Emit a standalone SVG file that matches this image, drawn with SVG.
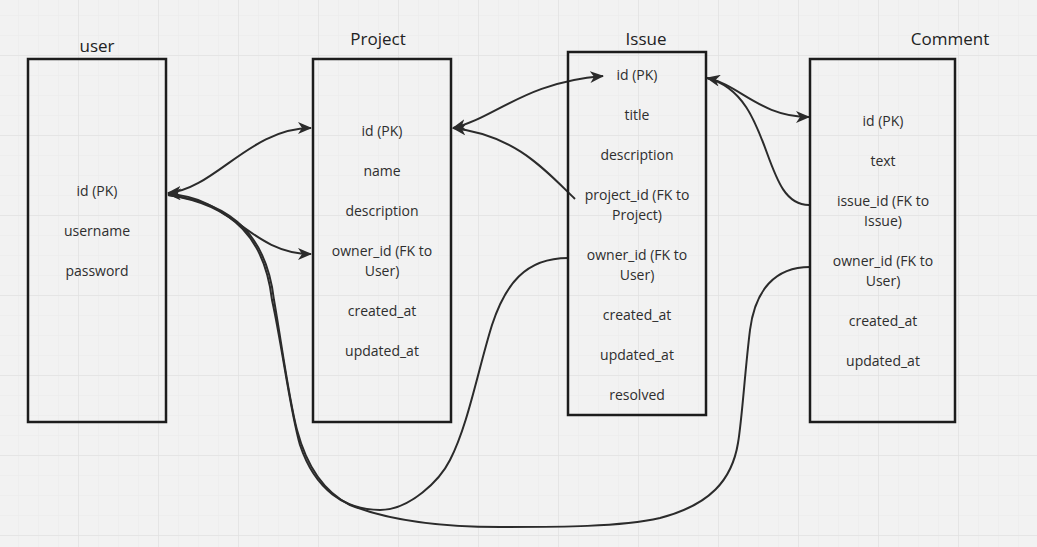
<svg xmlns="http://www.w3.org/2000/svg" width="1037" height="547" viewBox="0 0 1037 547">
  <style>
    .box { fill: none; stroke: #1c1c1c; stroke-width: 2.5; }
    .title { font-family: "Open Sans", "Noto Sans", sans-serif; font-size: 17px; fill: #222; text-anchor: middle; }
    .field { font-family: "Open Sans", "Noto Sans", sans-serif; font-size: 14px; fill: #2e2e2e; text-anchor: middle; }
    .conn { fill: none; stroke: #2b2b2b; stroke-width: 2; }
  </style>
  <defs>
    <pattern id="minor" x="18" y="15" width="20" height="20" patternUnits="userSpaceOnUse">
      <path d="M0,0 V20 M0,0 H20" stroke="#eaeaea" stroke-width="1" fill="none"/>
    </pattern>
    <pattern id="major" x="78" y="55" width="80" height="80" patternUnits="userSpaceOnUse">
      <path d="M0,0 V80 M0,0 H80" stroke="#e2e2e2" stroke-width="1.5" fill="none"/>
    </pattern>
    <marker id="arr" viewBox="0 0 14 12" refX="13" refY="6" markerWidth="14" markerHeight="12" markerUnits="userSpaceOnUse" orient="auto-start-reverse">
      <path d="M0,0 L14,6 L0,12 L4,6 Z" fill="#2b2b2b"/>
    </marker>
  </defs>
  <rect width="1037" height="547" fill="#f2f2f2"/>
  <rect width="1037" height="547" fill="url(#minor)"/>
  <rect width="1037" height="547" fill="url(#major)"/>

  <g id="connectors">
    <path class="conn" d="M168,193 C215,189 250,128 311,128" marker-start="url(#arr)" marker-end="url(#arr)"/>
    <path class="conn" d="M168,194 C230,196 250,254 311,254" marker-start="url(#arr)" marker-end="url(#arr)"/>
    <path class="conn" d="M575,199 C545,170 515,135 453,128" marker-end="url(#arr)"/>
    <path class="conn" d="M453,128 C495,118 525,82 603,76" marker-start="url(#arr)" marker-end="url(#arr)"/>
    <path class="conn" d="M707,78 C740,85 760,117 809,117" marker-start="url(#arr)" marker-end="url(#arr)"/>
    <path class="conn" d="M809,205 C760,205 775,95 707,78"/>
    <path class="conn" d="M568,258 C525,258 505,285 492,325 C478,370 468,425 450,460 C440,480 410,510 380,510 C345,510 315,490 300,445 C290,410 282,345 272,300 C265,240 235,205 168,195"/>
    <path class="conn" d="M810,267 C775,267 755,290 750,330 C745,370 742,420 738,443 C732,480 710,505 660,518 C620,527 560,527 500,527 C440,527 390,521 350,505 C320,490 305,460 297,430 C289,400 281,340 274,300 C267,240 236,203 168,195"/>
  </g>

  <g id="user">
    <rect class="box" x="28" y="59" width="138" height="363"/>
    <text class="title" x="97" y="52">user</text>
    <text class="field" x="97" y="196">id (PK)</text>
    <text class="field" x="97" y="236">username</text>
    <text class="field" x="97" y="276">password</text>
  </g>

  <g id="project">
    <rect class="box" x="313" y="59" width="138" height="363"/>
    <text class="title" x="378" y="45">Project</text>
    <text class="field" x="382" y="136">id (PK)</text>
    <text class="field" x="382" y="176">name</text>
    <text class="field" x="382" y="216">description</text>
    <text class="field" x="382" y="256">owner_id (FK to</text>
    <text class="field" x="382" y="276">User)</text>
    <text class="field" x="382" y="316">created_at</text>
    <text class="field" x="382" y="356">updated_at</text>
  </g>

  <g id="issue">
    <rect class="box" x="568" y="52" width="138" height="363"/>
    <text class="title" x="646" y="45">Issue</text>
    <text class="field" x="637" y="80">id (PK)</text>
    <text class="field" x="637" y="120">title</text>
    <text class="field" x="637" y="160">description</text>
    <text class="field" x="637" y="200">project_id (FK to</text>
    <text class="field" x="637" y="220">Project)</text>
    <text class="field" x="637" y="260">owner_id (FK to</text>
    <text class="field" x="637" y="280">User)</text>
    <text class="field" x="637" y="320">created_at</text>
    <text class="field" x="637" y="360">updated_at</text>
    <text class="field" x="637" y="400">resolved</text>
  </g>

  <g id="comment">
    <rect class="box" x="810" y="59" width="145" height="363"/>
    <text class="title" x="950" y="45">Comment</text>
    <text class="field" x="883" y="126">id (PK)</text>
    <text class="field" x="883" y="166">text</text>
    <text class="field" x="883" y="206">issue_id (FK to</text>
    <text class="field" x="883" y="226">Issue)</text>
    <text class="field" x="883" y="266">owner_id (FK to</text>
    <text class="field" x="883" y="286">User)</text>
    <text class="field" x="883" y="326">created_at</text>
    <text class="field" x="883" y="366">updated_at</text>
  </g>
</svg>
